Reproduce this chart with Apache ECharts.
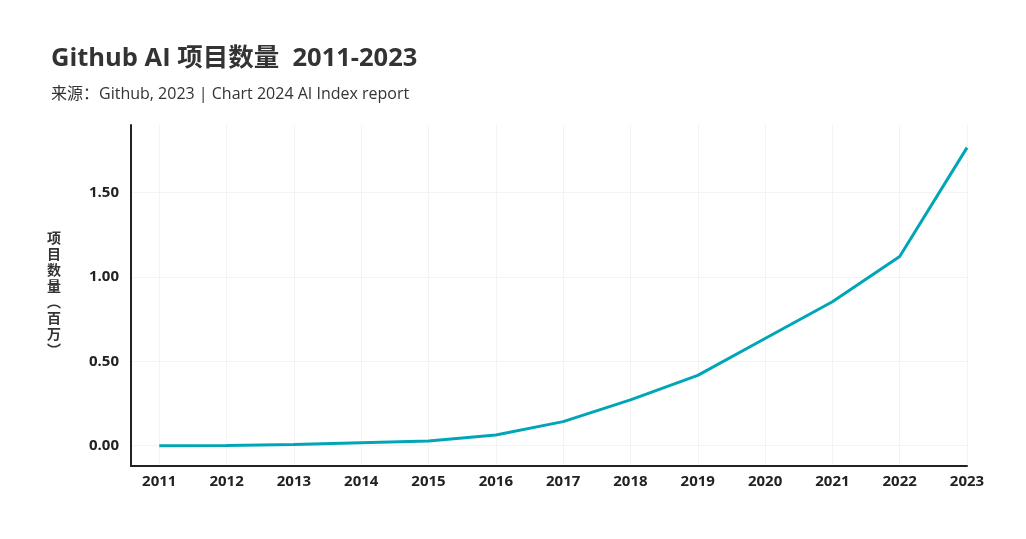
<!DOCTYPE html>
<html>
<head>
<meta charset="utf-8">
<script src="https://cdn.jsdelivr.net/npm/echarts@6/dist/echarts.min.js"></script>
<style>
html,body{margin:0;padding:0;background:#fff;}
#chart{width:1026px;height:539px;}
</style>
</head>
<body>
<div id="chart"></div>
<script>
var years = [2011, 2012, 2013, 2014, 2015, 2016, 2017, 2018, 2019, 2020, 2021, 2022, 2023];
var projects = [0.00, 0.002, 0.008, 0.018, 0.028, 0.064, 0.143, 0.272, 0.417, 0.635, 0.853, 1.121, 1.766];
var yTicks = [0, 0.5, 1.0, 1.5];

var FONT = '"Open Sans", "Noto Sans CJK SC", sans-serif';
var chart = echarts.init(document.getElementById('chart'));
chart.setOption({
  backgroundColor: '#ffffff',
  animation: false,
  textStyle: { fontFamily: FONT },
  title: {
    text: 'Github AI 项目数量  2011-2023',
    subtext: '来源：Github, 2023 | Chart 2024 AI Index report',
    left: 46,
    top: 41,
    itemGap: 15,
    textStyle: { fontFamily: FONT, fontSize: 25.5, fontWeight: 'bold', color: '#333333' },
    subtextStyle: { fontFamily: FONT, fontSize: 16, color: '#333333' }
  },
  grid: { left: 131, right: 59, top: 125, bottom: 73 },
  xAxis: {
    type: 'value',
    min: 2010.58,
    max: 2023,
    axisLine: { show: true, onZero: false, lineStyle: { color: '#222222', width: 2 } },
    axisTick: { show: false, customValues: years },
    axisLabel: {
      customValues: years,
      margin: 8,
      fontFamily: FONT, fontSize: 15, fontWeight: 'bold', color: '#222222',
      formatter: function (v) { return String(Math.round(v)); }
    },
    splitLine: { show: true, lineStyle: { color: '#f3f3f3', width: 1 } }
  },
  yAxis: {
    type: 'value',
    min: -0.12,
    max: 1.9,
    name: '项\n目\n数\n量\n︵\n百\n万\n︶',
    nameLocation: 'middle',
    nameRotate: 0,
    nameGap: 70,
    nameTextStyle: { fontFamily: FONT, fontSize: 14, fontWeight: 'bold', color: '#333333', lineHeight: 16 },
    axisLine: { show: true, onZero: false, lineStyle: { color: '#222222', width: 2 } },
    axisTick: { show: false, customValues: yTicks },
    axisLabel: {
      customValues: yTicks,
      margin: 12,
      fontFamily: FONT, fontSize: 15, fontWeight: 'bold', color: '#222222',
      formatter: function (v) { return v.toFixed(2); }
    },
    splitLine: { show: true, lineStyle: { color: '#f3f3f3', width: 1 } }
  },
  series: [{
    type: 'line',
    data: years.map(function (y, i) { return [y, projects[i]]; }),
    showSymbol: false,
    lineStyle: { color: '#00A6B8', width: 3 },
    itemStyle: { color: '#00A6B8' }
  }]
});
</script>
</body>
</html>
